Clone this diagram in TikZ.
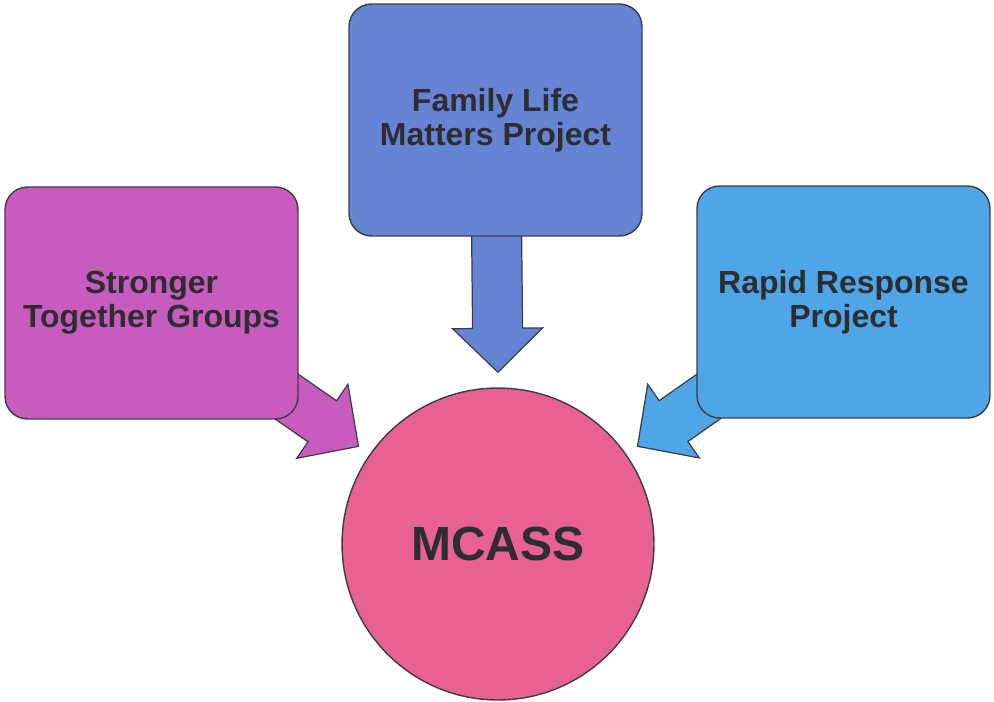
\documentclass[tikz,border=0pt]{standalone}
\usepackage{fontspec}
\setmainfont{Liberation Sans}
\definecolor{GroupPink}{RGB}{200, 92, 190}
\definecolor{FamilyBlue}{RGB}{102, 132, 212}
\definecolor{RapidBlue}{RGB}{78, 166, 230}
\definecolor{HubPink}{RGB}{232, 98, 145}
\definecolor{EdgeGrey}{RGB}{60, 60, 70}
\definecolor{TextGrey}{RGB}{45, 45, 50}
\usetikzlibrary{calc, backgrounds}

% block arrow: colour, from, to
\newcommand{\blockarrow}[3]{%
  \coordinate (ba-s) at (#2);
  \coordinate (ba-t) at (#3);
  \coordinate (ba-h) at ($(ba-t)!0.88cm!(ba-s)$);
  \filldraw[fill=#1, draw=EdgeGrey, line width=0.7pt, line join=miter]
    ($(ba-s)!0.5cm!90:(ba-t)$) -- ($(ba-h)!0.5cm!90:(ba-t)$)
    -- ($(ba-h)!0.9cm!90:(ba-t)$) -- (ba-t)
    -- ($(ba-h)!0.9cm!-90:(ba-t)$) -- ($(ba-h)!0.5cm!-90:(ba-t)$)
    -- ($(ba-s)!0.5cm!-90:(ba-t)$) -- cycle;
}

\begin{document}
\begin{tikzpicture}[x=0.02cm, y=-0.02cm,
    box/.style={draw=EdgeGrey, line width=0.8pt, rounded corners=0.45cm,
      minimum width=5.86cm, minimum height=4.64cm, align=center,
      text=TextGrey, font=\fontsize{18.2}{19.5}\selectfont\bfseries},
    hub/.style={circle, draw=EdgeGrey, line width=0.8pt, minimum size=6.24cm,
      text=TextGrey, font=\fontsize{27.3}{30}\selectfont\bfseries}]
    \useasboundingbox (0,0) rectangle (994,701);

    % Projects
    \node[box, fill=GroupPink] (groups) at (151.5,303) {Stronger\\Together Groups};
    \node[box, fill=FamilyBlue] (family) at (495.5,120) {Family Life\\Matters Project};
    \node[box, fill=RapidBlue] (rapid) at (843.5,302) {Rapid Response\\Project};

    % Centre
    \node[hub, fill=HubPink] (mcass) at (498,544) {MCASS};

    % Arrow tips
    \coordinate (tipG) at ($(mcass.center)!1.087!(mcass.145)$);
    \coordinate (tipF) at ($(mcass.center)!1.096!(mcass.90)$);
    \coordinate (tipR) at ($(mcass.center)!1.087!(mcass.35)$);

    % Arrows
    \begin{scope}[on background layer]
        \blockarrow{GroupPink}{groups.center}{tipG}
        \blockarrow{FamilyBlue}{family.center}{tipF}
        \blockarrow{RapidBlue}{rapid.center}{tipR}
    \end{scope}
\end{tikzpicture}
\end{document}
